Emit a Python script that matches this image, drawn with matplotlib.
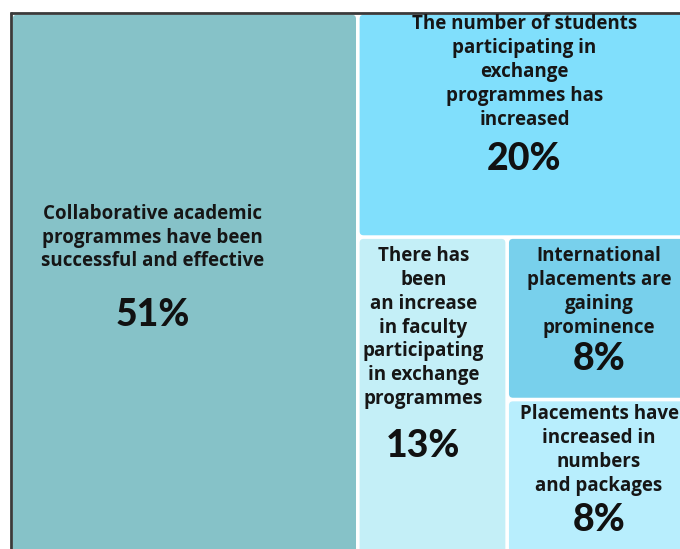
import matplotlib
matplotlib.use("Agg")
import matplotlib.pyplot as plt
from matplotlib.patches import FancyBboxPatch

# Survey statements and their shares (%)
statements = [
    "Collaborative academic\nprogrammes have been\nsuccessful and effective",
    "The number of students\nparticipating in\nexchange\nprogrammes has\nincreased",
    "There has\nbeen\nan increase\nin faculty\nparticipating\nin exchange\nprogrammes",
    "International\nplacements are\ngaining\nprominence",
    "Placements have\nincreased in\nnumbers\nand packages",
]
shares = [51, 20, 13, 8, 8]
tile_colors = ["#86c2c8", "#80dffc", "#c4eff7", "#78d0ec", "#b8eefd"]

# text placement inside each tile (pixel offsets from tile centre)
title_dx = [-32, 0, -9, 0, 0]
title_dy = [-50, -53, -72, -26, -31]
pct_dy = [27, 34, 46, 41, 39]

W_PX, H_PX = 680, 549
fig = plt.figure(figsize=(W_PX / 100, H_PX / 100), dpi=100)
ax = fig.add_axes([0, 0, 1, 1])
ax.set_xlim(0, W_PX)
ax.set_ylim(H_PX, 0)
ax.axis("off")


def spiral_layout(vals, x, y, w, h):
    """Each tile takes its share of the remaining area, alternating cut direction."""
    rects = []
    remaining = float(sum(vals))
    for i, v in enumerate(vals):
        if i == len(vals) - 1:
            rects.append((x, y, w, h))
            break
        frac = v / remaining
        if i % 2 == 0:
            cw = w * frac
            rects.append((x, y, cw, h))
            x += cw
            w -= cw
        else:
            ch = h * frac
            rects.append((x, y, w, ch))
            y += ch
            h -= ch
        remaining -= v
    return rects


rects = spiral_layout(shares, 11, 13, 680, 549)
gap = 1.8

for (x, y, w, h), txt, val, col, dx, tdy, pdy in zip(
        rects, statements, shares, tile_colors, title_dx, title_dy, pct_dy):
    patch = FancyBboxPatch((x + gap, y + gap), w - 2 * gap, h - 2 * gap,
                           boxstyle="round,pad=0,rounding_size=4",
                           facecolor=col, edgecolor="none")
    ax.add_patch(patch)
    cx, cy = x + w / 2, y + h / 2
    ax.text(cx + dx, cy + tdy, txt, ha="center", va="center",
            fontsize=13.5, fontweight="bold", family="Open Sans", color="#161616",
            linespacing=1.26)
    ax.text(cx + dx, cy + pdy, f"{val}%", ha="center", va="center",
            fontsize=27, fontweight=900, family="Lato", color="#111111")

# frame along the top and left edges
ax.plot([10.5, 10.5], [12, H_PX], color="#3a3a3a", lw=2, solid_capstyle="butt")
ax.plot([10, W_PX], [12.5, 12.5], color="#3a3a3a", lw=2, solid_capstyle="butt")

fig.savefig("out.png", dpi=100, facecolor="white")
